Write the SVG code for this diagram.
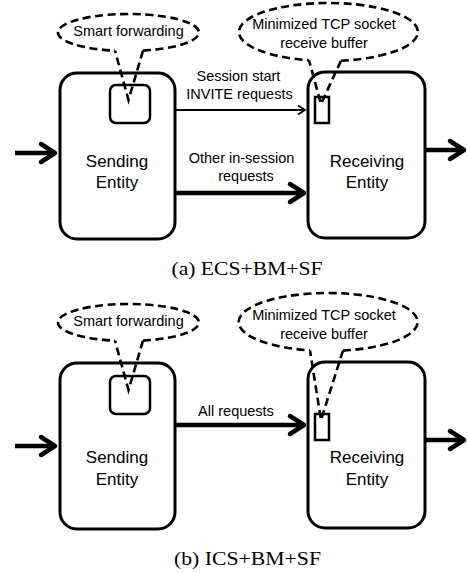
<svg xmlns="http://www.w3.org/2000/svg" width="468" height="573" viewBox="0 0 468 573">
  <style>
    .box { fill: #ffffff; stroke: #000000; stroke-width: 3; }
    .inner { fill: none; stroke: #000000; stroke-width: 2.5; }
    .callout { fill: none; stroke: #000000; stroke-width: 2.6; stroke-dasharray: 8 4.5; }
    .lbl { font-family: "Liberation Sans", Arial, sans-serif; font-size: 17px; fill: #000000; text-anchor: middle; }
    .small { font-family: "Liberation Sans", Arial, sans-serif; font-size: 14.5px; fill: #000000; text-anchor: middle; }
    .cap { font-family: "Liberation Serif", "Times New Roman", serif; font-size: 18.5px; fill: #000000; }
    .thick { fill: none; stroke: #000000; stroke-width: 4.5; marker-end: url(#headThick); }
    .thin { fill: none; stroke: #000000; stroke-width: 1.8; marker-end: url(#headThin); }
  </style>
  <defs>
    <marker id="headThick" markerUnits="userSpaceOnUse" viewBox="-18 -12 22 24" markerWidth="22" markerHeight="24" refX="0" refY="0" orient="auto" overflow="visible">
      <path d="M-14,-9 L0,0 L-14,9" fill="none" stroke="#000000" stroke-width="4.5" stroke-linejoin="round" stroke-linecap="round"/>
    </marker>
    <marker id="headThin" markerUnits="userSpaceOnUse" viewBox="-10 -7 12 14" markerWidth="12" markerHeight="14" refX="0" refY="0" orient="auto" overflow="visible">
      <path d="M-7,-4.5 L0,0 L-7,4.5" fill="none" stroke="#000000" stroke-width="1.8" stroke-linejoin="miter"/>
    </marker>
  </defs>

  <rect width="468" height="573" fill="#ffffff"/>

  <!-- ===== Panel (a) ===== -->
  <g id="sending-a">
    <rect class="box" x="60" y="73" width="115" height="166" rx="17"/>
    <rect class="inner" x="110" y="85" width="40" height="38" rx="6"/>
    <text class="lbl" x="117" y="166.5">Sending</text>
    <text class="lbl" x="117" y="187.5">Entity</text>
  </g>
  <g id="receiving-a">
    <rect class="box" x="308" y="72" width="117" height="166" rx="17"/>
    <rect class="inner" x="315" y="97" width="14" height="26" rx="0" stroke-width="2"/>
    <text class="lbl" x="367" y="166.5">Receiving</text>
    <text class="lbl" x="367" y="188">Entity</text>
  </g>
  <g id="callout-smart-a">
    <path class="callout" d="M143,50.6 L128.5,100 L115,50.66 M143,50.6 A70.5,18.5 0 1 0 115,50.66"/>
    <text class="small" x="128.5" y="35.5">Smart forwarding</text>
  </g>
  <g id="callout-buffer-a">
    <path class="callout" d="M341,60.7 L321,104 L309,60.3 M341,60.7 A89.5,29 0 1 0 309,60.3"/>
    <text class="small" x="324" y="28.5">Minimized TCP socket</text>
    <text class="small" x="324" y="47.5">receive buffer</text>
  </g>

  <!-- ===== Panel (b) ===== -->
  <g id="sending-b">
    <rect class="box" x="60" y="363" width="115" height="166" rx="17"/>
    <rect class="inner" x="110" y="376" width="40" height="38" rx="6"/>
    <text class="lbl" x="117" y="463">Sending</text>
    <text class="lbl" x="117" y="485">Entity</text>
  </g>
  <g id="receiving-b">
    <rect class="box" x="308" y="362" width="117" height="166" rx="17"/>
    <rect class="inner" x="315" y="414" width="14" height="26" rx="0" stroke-width="2"/>
    <text class="lbl" x="367" y="463">Receiving</text>
    <text class="lbl" x="367" y="485">Entity</text>
  </g>
  <g id="callout-smart-b">
    <path class="callout" d="M143,340.6 L128.5,390 L115,340.66 M143,340.6 A70.5,18.5 0 1 0 115,340.66"/>
    <text class="small" x="128.5" y="325.5">Smart forwarding</text>
  </g>
  <g id="callout-buffer-b">
    <path class="callout" d="M343,350.6 L321,420 L310,350.4 M343,350.6 A89.5,29 0 1 0 310,350.4"/>
    <text class="small" x="324" y="319.5">Minimized TCP socket</text>
    <text class="small" x="324" y="339">receive buffer</text>
  </g>

  <!-- ===== Connectors ===== -->
  <g id="connectors">
    <line class="thick" x1="15" y1="153" x2="55" y2="153"/>
    <line class="thick" x1="426" y1="150" x2="464" y2="150"/>
    <line class="thin" x1="176" y1="110" x2="305" y2="110"/>
    <line class="thick" x1="176" y1="193" x2="304" y2="193"/>

    <line class="thick" x1="15" y1="446" x2="55" y2="446"/>
    <line class="thick" x1="426" y1="440" x2="464" y2="440"/>
    <line class="thick" x1="176" y1="425" x2="304" y2="425"/>
  </g>
  <g id="connector-labels">
    <text class="small" x="238.5" y="80.5">Session start</text>
    <text class="small" x="239.5" y="99">INVITE requests</text>
    <text class="small" x="241.5" y="163">Other in-session</text>
    <text class="small" x="246" y="181">requests</text>
    <text class="small" x="236" y="416">All requests</text>
  </g>

  <!-- ===== Captions ===== -->
  <g id="captions">
    <text class="cap" x="171.5" y="275" textLength="151" lengthAdjust="spacingAndGlyphs">(a) ECS+BM+SF</text>
    <text class="cap" x="174" y="565" textLength="147" lengthAdjust="spacingAndGlyphs">(b) ICS+BM+SF</text>
  </g>
</svg>
